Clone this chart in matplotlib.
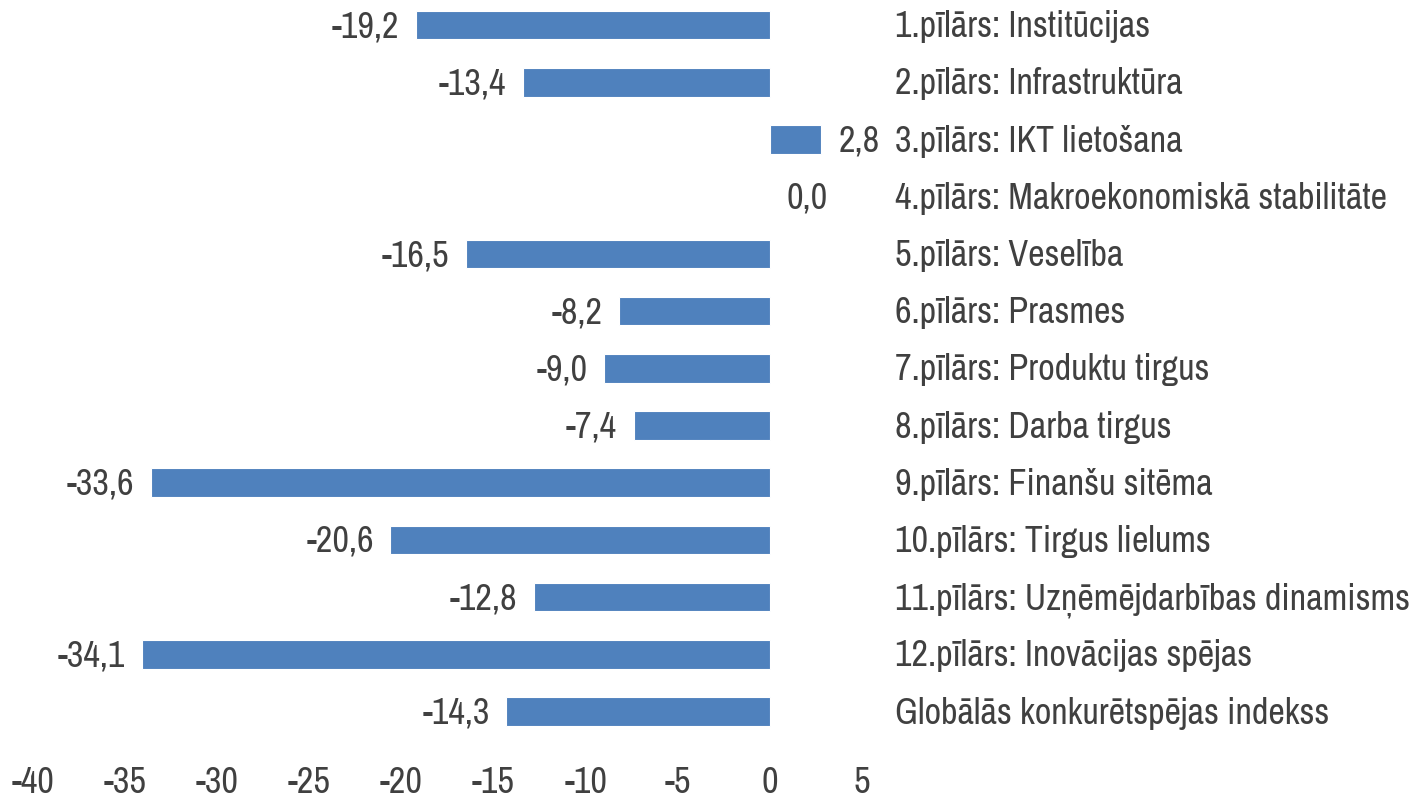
import matplotlib
matplotlib.use("Agg")
import matplotlib.pyplot as plt

categories = [
    "1.pīlārs: Institūcijas",
    "2.pīlārs: Infrastruktūra",
    "3.pīlārs: IKT lietošana",
    "4.pīlārs: Makroekonomiskā stabilitāte",
    "5.pīlārs: Veselība",
    "6.pīlārs: Prasmes",
    "7.pīlārs: Produktu tirgus",
    "8.pīlārs: Darba tirgus",
    "9.pīlārs: Finanšu sitēma",
    "10.pīlārs: Tirgus lielums",
    "11.pīlārs: Uzņēmējdarbības dinamisms",
    "12.pīlārs: Inovācijas spējas",
    "Globālās konkurētspējas indekss",
]
values = [-19.2, -13.4, 2.8, 0.0, -16.5, -8.2, -9.0, -7.4, -33.6, -20.6, -12.8, -34.1, -14.3]
x_ticks = [-40, -35, -30, -25, -20, -15, -10, -5, 0, 5]

plt.rcParams["font.family"] = ["Archivo Narrow", "DejaVu Sans"]

TEXT = "#404040"
BAR = "#4F81BD"
FS = 26

fig = plt.figure(figsize=(14.28, 8.01), dpi=100)
ax = fig.add_axes([33 / 1428, 61 / 801, (862 - 33) / 1428, 740 / 801])

ypos = list(range(len(categories)))
ax.barh(ypos, values, height=0.5, color=BAR, edgecolor="white", linewidth=0.8)

for y, v, name in zip(ypos, values, categories):
    lab = f"{v:.1f}".replace(".", ",")
    if v < 0:
        ax.annotate(lab, (v, y), xytext=(-12, 1), textcoords="offset points",
                    ha="right", va="center_baseline", fontsize=FS, color=TEXT)
    else:
        ax.annotate(lab, (v, y), xytext=(12, 1), textcoords="offset points",
                    ha="left", va="center_baseline", fontsize=FS, color=TEXT)
    ax.annotate(name, (1.04, y), xycoords=ax.get_yaxis_transform(),
                xytext=(0, 1), textcoords="offset points",
                ha="left", va="center_baseline", fontsize=FS, color=TEXT)

ax.set_xlim(-40, 5)
ax.set_ylim(12.5, -0.44)
ax.set_xticks(x_ticks)
ax.set_xticklabels([str(t) for t in x_ticks])
ax.set_yticks([])
ax.tick_params(axis="x", length=0, pad=19, labelsize=FS, labelcolor=TEXT)
for s in ax.spines.values():
    s.set_visible(False)

fig.savefig("out.png", dpi=100)
